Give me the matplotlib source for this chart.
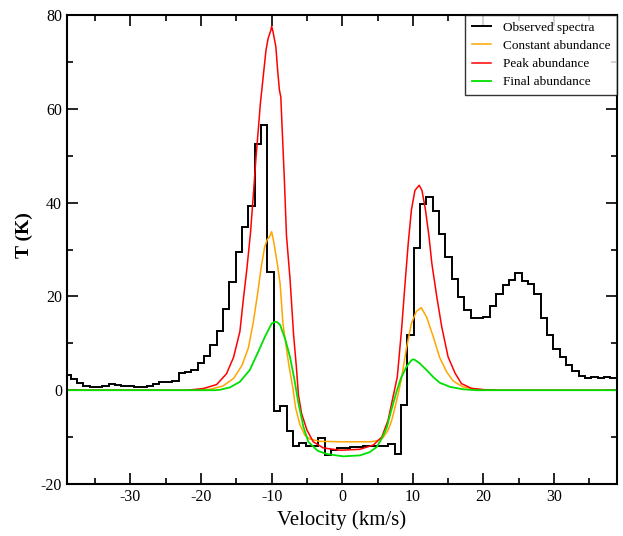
import numpy as np
import matplotlib
matplotlib.use("Agg")
import matplotlib.pyplot as plt
from matplotlib.ticker import MultipleLocator

plt.rcParams['font.family'] = ['Liberation Serif', 'DejaVu Serif']
plt.rcParams['axes.unicode_minus'] = False

# observed spectrum: channel edges (km/s) and antenna temperature per channel (K)
chan_first_edge = -39.39
chan_width = 0.9
obs_T = [
    3.2, 2.3, 1.6, 1.0, 0.7, 0.7, 0.9, 1.3, 1.1, 0.9,
    0.8, 0.7, 0.6, 0.8, 1.3, 1.7, 1.7, 2.0, 3.6, 3.8,
    4.4, 5.8, 7.2, 9.6, 12.7, 17.4, 23.1, 29.5, 34.8, 39.3,
    52.6, 56.5, 25.3, -4.5, -3.3, -8.7, -11.9, -11.3, -11.8, -11.9,
    -10.1, -13.9, -12.8, -12.4, -12.3, -12.1, -12.1, -11.9, -11.9, -11.8,
    -11.8, -11.5, -13.5, -3.2, 11.7, 30.4, 39.8, 41.1, 38.2, 33.4,
    28.3, 23.8, 19.8, 17.1, 15.4, 15.4, 15.7, 17.9, 20.6, 22.5,
    23.5, 24.9, 23.3, 22.7, 20.5, 15.3, 11.7, 8.7, 7.1, 5.3,
    4.1, 3.0, 2.7, 2.8, 2.7, 2.8, 2.5,
]
obs_edges = chan_first_edge + chan_width * np.arange(len(obs_T) + 1)

# model: constant abundance
v_const = [-39, -21, -18.7, -16.9, -15.4, -14.2, -13.3, -12.6, -12.0, -11.5,
           -11.0, -10.6, -10.3, -10.0, -9.7, -9.2, -8.8, -8.4, -7.6, -7.0,
           -6.6, -6.0, -5.3, -4.6, -3.2, 0.1, 3.9, 4.9, 5.8, 6.5,
           7.0, 7.5, 7.9, 8.4, 9.1, 9.8, 10.5, 11.2, 11.95, 12.9,
           13.8, 14.8, 15.7, 17.1, 19.0, 21, 39]
T_const = [0, 0, 0.2, 0.9, 2.5, 5.3, 9.0, 14.5, 20.5, 26.0,
           30.5, 32.2, 32.7, 33.8, 31.6, 27.0, 22.7, 14.2, 5.7, 0.5,
           -3.8, -7.3, -9.6, -10.4, -10.9, -11.0, -11.0, -10.8, -10.1, -8.5,
           -6.5, -3.5, -1.0, 2.5, 9.0, 14.2, 16.8, 17.6, 15.6, 11.4,
           7.0, 3.9, 2.0, 0.7, 0.2, 0, 0]

# model: peak abundance
v_peak = [-39, -22, -19.7, -17.8, -16.4, -15.4, -14.5, -14.0, -13.5, -13.0,
          -12.6, -12.2, -11.9, -11.6, -11.2, -10.8, -10.5, -10.1, -10.0, -9.8,
          -9.4, -9.15, -8.9, -8.7, -8.5, -8.2, -7.9, -7.4, -6.9, -6.5,
          -6.2, -5.75, -5.0, -4.1, -2.7, -0.3, 2.5, 4.4, 5.6, 6.5,
          7.2, 7.8, 8.4, 8.9, 9.35, 9.8, 10.3, 10.9, 11.3, 11.8,
          12.3, 12.7, 13.4, 14.1, 15.0, 16.0, 16.9, 18.3, 20.2, 22, 39]
T_peak = [0, 0, 0.35, 1.2, 3.5, 7.0, 12.5, 19.5, 26.0, 33.5,
          41.5, 50.0, 55.4, 61.1, 66.8, 72.5, 75.0, 76.8, 77.6, 76.4,
          73.2, 68.2, 64.0, 62.5, 55.4, 45.0, 33.0, 23.8, 12.0, 5.0,
          -1.1, -5.0, -8.5, -11.0, -12.3, -12.8, -12.6, -11.7, -10.0, -6.4,
          -1.4, 2.8, 12.8, 22.7, 31.3, 38.4, 42.6, 43.7, 42.6, 38.4,
          32.7, 27.0, 19.9, 13.5, 7.1, 3.6, 1.4, 0.4, 0.1, 0, 0]

# model: final abundance
v_final = [-39, -18, -17.3, -15.9, -14.5, -13.1, -11.9, -10.95, -10.0, -9.5,
           -9.2, -8.8, -8.1, -7.4, -6.8, -6.2, -5.5, -4.8, -3.5, -2.2,
           0.15, 2.5, 3.9, 4.9, 5.6, 6.3, 7.0, 7.7, 8.3, 9.1,
           9.8, 10.15, 11.0, 11.95, 12.9, 13.8, 15.3, 17.1, 19, 39]
T_final = [0, 0, 0.1, 0.6, 1.8, 4.3, 8.2, 11.4, 14.2, 14.6,
           14.5, 13.9, 11.0, 7.1, 2.5, -2.8, -7.8, -11.0, -12.9, -13.6,
           -14.1, -13.9, -13.2, -12.1, -10.3, -8.0, -4.0, -0.3, 2.5, 5.0,
           6.4, 6.6, 5.7, 4.3, 2.8, 1.6, 0.7, 0.2, 0, 0]

fig = plt.figure(figsize=(6.23, 5.36), dpi=100)
ax = fig.add_axes([0.1075, 0.097, 0.8825, 0.875])

ax.stairs(obs_T, obs_edges, baseline=None, color='black', linewidth=1.4,
          label='Observed spectra')
ax.plot(v_const, T_const, color='#FFA500', linewidth=1.1, label='Constant abundance')
ax.plot(v_peak, T_peak, color='#FF0000', linewidth=1.1, label='Peak abundance')
ax.plot(v_final, T_final, color='#00E000', linewidth=1.3, label='Final abundance')

ax.set_xlim(-39.0, 38.9)
ax.set_ylim(-20, 80)
ax.xaxis.set_major_locator(MultipleLocator(10))
ax.xaxis.set_minor_locator(MultipleLocator(5))
ax.yaxis.set_major_locator(MultipleLocator(20))
ax.yaxis.set_minor_locator(MultipleLocator(10))
ax.tick_params(which='both', direction='in', top=True, right=True, width=1.2,
               labelsize=11.5)
ax.tick_params(which='major', length=8)
ax.tick_params(which='minor', length=4)
for s in ax.spines.values():
    s.set_linewidth(1.5)

ax.set_xlabel('Velocity (km/s)', fontsize=15, labelpad=4)
ax.set_ylabel('T (K)', fontsize=14, fontweight='bold')
ax.yaxis.set_label_coords(-0.062, 0.53)

leg = ax.legend(loc='upper right', borderaxespad=0, fancybox=False,
                fontsize=9.5, handlelength=1.5, handletextpad=0.85,
                labelspacing=0.45, borderpad=0.5)
leg.get_frame().set_edgecolor('black')
leg.get_frame().set_linewidth(1.0)

fig.savefig('out.png', dpi=100)
